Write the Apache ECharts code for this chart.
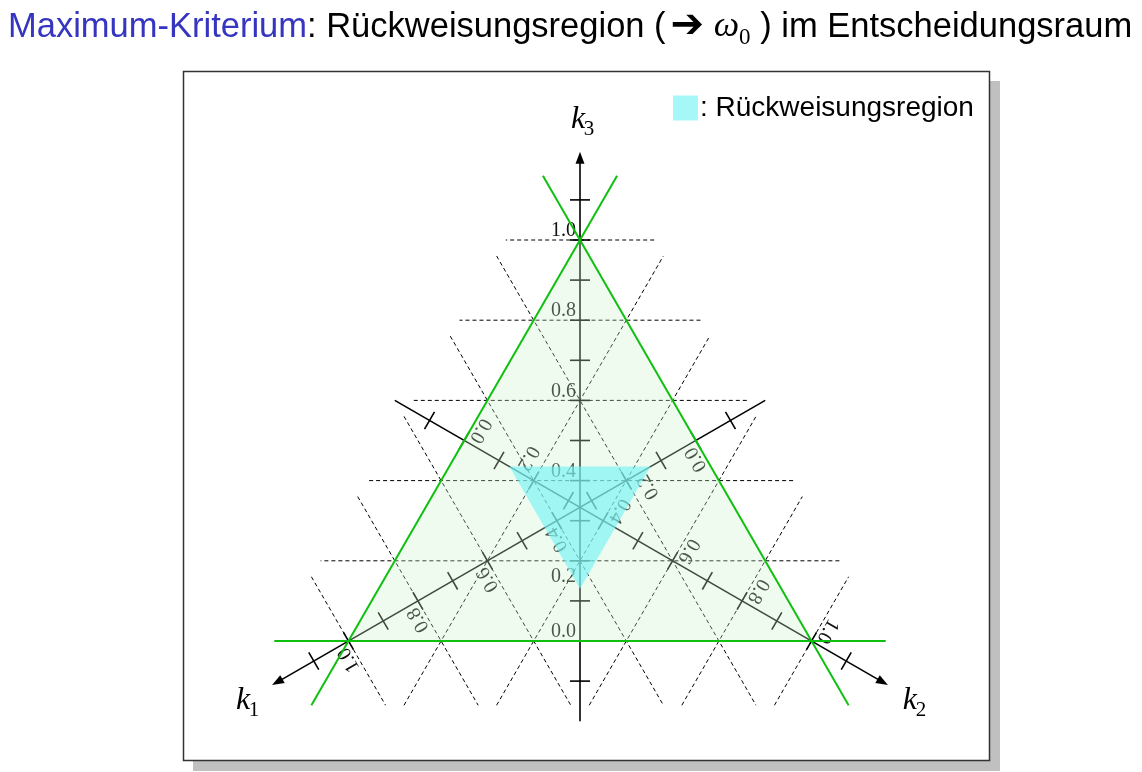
<!DOCTYPE html>
<html>
<head>
<meta charset="utf-8">
<script src="https://cdn.jsdelivr.net/npm/echarts@6.0.0/dist/echarts.min.js"></script>
<style>
html,body{margin:0;padding:0;background:#fff;}
#chart{width:1142px;height:772px;}
</style>
</head>
<body>
<div id="chart"></div>
<script>
// ---------------- data ----------------
const axisIndex = [0, 1, 2];               // k1, k2, k3
const axisLetters = ['k', 'k', 'k'];
const axisSubs = ['1', '2', '3'];
const axisRange = [-0.2, 1.22];            // each axis runs from -0.2 to the arrow tip
const tickValues = [-0.1, 0.0, 0.1, 0.2, 0.3, 0.4, 0.5, 0.6, 0.7, 0.8, 0.9, 1.0, 1.1];
const labelValues = [0.0, 0.2, 0.4, 0.6, 0.8, 1.0];
const tickLabels = ['0.0', '0.2', '0.4', '0.6', '0.8', '1.0'];
const gridValues = [0.2, 0.4, 0.6, 0.8, 1.0];   // dashed lines k_i = const
const edgeValues = [0.0];                        // green lines k_i = 0
const simplexValues = [1.0];                     // decision triangle (vertices k_i = 1)
const rejectThreshold = [0.435];                 // max(k_i) < threshold  -> rejection
const rejectName = 'Rückweisungsregion';

// ---------------- styles ----------------
const SQ3 = Math.sqrt(3);
const EXT = 0.185;                 // extension of lines beyond triangle (data units)
const ROT = [2 * Math.PI / 3, -2 * Math.PI / 3, 0];
const NAME_OFF = [[-29, 15], [22, 15], [-2, -32]];
const LABEL_DY = [0, 25, 0, 0, 0, 0];   // label shifted away from the centre for 0.2
const GREEN = '#10c010';
const FILL = 'rgba(206,242,206,0.31)';
const CYAN = 'rgba(117,243,244,0.65)';
const SERIF = '"Liberation Serif","Times New Roman",serif';
const SANS = '"Liberation Sans",Arial,sans-serif';

// ternary (k1,k2,k3) -> cartesian data coordinates
function tern(k) { return [(k[1] - k[0]) / SQ3, k[2]]; }
function axisPt(i, v) { const o = (1 - v) / 2; const k = [o, o, o]; k[i] = v; return tern(k); }
function perpDir(i) {
  const a = axisPt(i, 0), b = axisPt(i, 1);
  const dx = b[0] - a[0], dy = b[1] - a[1], L = Math.hypot(dx, dy);
  return [-dy / L, dx / L];
}
function constLine(i, v, ext) {
  const c = axisPt(i, v), p = perpDir(i), h = (1 - v) / SQ3 + ext;
  return [[c[0] - p[0] * h, c[1] - p[1] * h], [c[0] + p[0] * h, c[1] + p[1] * h]];
}
function seg(api, a, b, style) {
  const P = api.coord(a), Q = api.coord(b);
  return { type: 'line', shape: { x1: P[0], y1: P[1], x2: Q[0], y2: Q[1] }, style: style };
}

const chart = echarts.init(document.getElementById('chart'), null, { renderer: 'canvas' });

const option = {
  animation: false,
  backgroundColor: '#fff',
  title: {
    left: 3, top: 0, padding: 5,
    text: '{b|Maximum-Kriterium}{n|: Rückweisungsregion (}{sp| }{a|➔}{n| }{w|ω}{s|0}{n| ) im Entscheidungsraum}',
    textStyle: {
      fontWeight: 'normal',
      rich: {
        b: { fontFamily: SANS, fontSize: 34.5, fontWeight: 'normal', color: '#3535c0', lineHeight: 44 },
        n: { fontFamily: SANS, fontSize: 34.5, fontWeight: 'normal', color: '#000', lineHeight: 44 },
        sp: { fontFamily: SANS, fontSize: 18, fontWeight: 'normal', color: '#000', lineHeight: 44 },
        a: { fontFamily: '"DejaVu Sans"', fontSize: 40, fontWeight: 'bold', color: '#000', lineHeight: 44 },
        w: { fontFamily: SERIF, fontStyle: 'italic', fontWeight: 'normal', fontSize: 36, color: '#000', lineHeight: 44 },
        s: { fontFamily: SERIF, fontSize: 23, fontWeight: 'normal', color: '#000', lineHeight: 16, verticalAlign: 'bottom' }
      }
    }
  },
  legend: {
    data: [rejectName],
    left: 673, top: 94, padding: 0,
    itemWidth: 25, itemHeight: 25, icon: 'rect',
    formatter: ': {name}',
    textStyle: { fontFamily: SANS, fontSize: 28, color: '#000', padding: [0, 0, 0, -3] },
    selectedMode: false
  },
  graphic: [
    { type: 'rect', z: 0, shape: { x: 193, y: 81, width: 807, height: 690 }, style: { fill: '#c0c0c0' } },
    { type: 'rect', z: 0, shape: { x: 183.5, y: 71.5, width: 806, height: 689 }, style: { fill: '#fff', stroke: '#333', lineWidth: 1.5 } }
  ],
  grid: { left: 179, right: 161, top: 79.6, bottom: 10.7 },
  xAxis: { type: 'value', min: -1, max: 1, show: false },
  yAxis: { type: 'value', min: -0.3, max: 1.4, show: false },
  series: [
    { // dashed grid lines
      type: 'custom', z: 3, silent: true, clip: false,
      data: gridValues.map(v => [v, 0]),
      renderItem: function (params, api) {
        const v = api.value(0);
        return { type: 'group', children: axisIndex.map(i => {
          const l = constLine(i, v, EXT);
          return seg(api, l[0], l[1], { stroke: '#000', lineWidth: 1, lineDash: [4, 3] });
        }) };
      }
    },
    { // axes with arrows and names
      type: 'custom', z: 5, silent: true, clip: false,
      data: axisIndex.map(i => [i, 0]),
      renderItem: function (params, api) {
        const i = api.value(0);
        const B = api.coord(axisPt(i, axisRange[1]));
        return { type: 'group', children: [
          seg(api, axisPt(i, axisRange[0]), axisPt(i, axisRange[1] - 0.02), { stroke: '#000', lineWidth: 1.6 }),
          { type: 'polygon', x: B[0], y: B[1], rotation: ROT[i],
            shape: { points: [[0, 0], [-4.5, 12], [4.5, 12]] }, style: { fill: '#000' } },
          { type: 'text', x: B[0] + NAME_OFF[i][0], y: B[1] + NAME_OFF[i][1],
            style: { text: axisLetters[i], font: 'italic 32px ' + SERIF, fill: '#000', align: 'center', verticalAlign: 'middle' } },
          { type: 'text', x: B[0] + NAME_OFF[i][0] + 11, y: B[1] + NAME_OFF[i][1] + 10,
            style: { text: axisSubs[i], font: '21px ' + SERIF, fill: '#000', align: 'center', verticalAlign: 'middle' } }
        ] };
      }
    },
    { // ticks
      type: 'custom', z: 5, silent: true, clip: false,
      data: tickValues.map(v => [v, 0]),
      renderItem: function (params, api) {
        const v = api.value(0);
        return { type: 'group', children: axisIndex.map(i => {
          const P = api.coord(axisPt(i, v));
          return { type: 'line', x: P[0], y: P[1], rotation: ROT[i],
            shape: { x1: -10, y1: 0, x2: 10, y2: 0 }, style: { stroke: '#000', lineWidth: 1.6 } };
        }) };
      }
    },
    { // tick labels
      type: 'custom', z: 5, silent: true, clip: false,
      data: labelValues.map((v, j) => [v, j]),
      renderItem: function (params, api) {
        const v = api.value(0), j = api.value(1);
        return { type: 'group', children: axisIndex.map(i => {
          const P = api.coord(axisPt(i, v));
          return { type: 'group', x: P[0], y: P[1], rotation: ROT[i], children: [
            { type: 'text', x: -4, y: -9 + LABEL_DY[j],
              style: { text: tickLabels[j], font: '20px ' + SERIF, fill: '#111', align: 'right', verticalAlign: 'middle' } }
          ] };
        }) };
      }
    },
    { // decision triangle fill
      type: 'custom', z: 8, silent: true, clip: false,
      data: simplexValues.map(v => [v, 0]),
      renderItem: function (params, api) {
        const v = api.value(0);
        return { type: 'polygon', shape: { points: axisIndex.map(i => api.coord(axisPt(i, v))) }, style: { fill: FILL } };
      }
    },
    { // green edges
      type: 'custom', z: 9, silent: true, clip: false,
      data: edgeValues.map(v => [v, 0]),
      renderItem: function (params, api) {
        const v = api.value(0);
        return { type: 'group', children: axisIndex.map(i => {
          const l = constLine(i, v, EXT);
          return seg(api, l[0], l[1], { stroke: GREEN, lineWidth: 2 });
        }) };
      }
    },
    { // rejection region: all k_i below threshold
      name: rejectName,
      type: 'custom', z: 10, silent: true, clip: false,
      itemStyle: { color: CYAN },
      data: rejectThreshold.map(t => [t, 0]),
      renderItem: function (params, api) {
        const t = api.value(0);
        return { type: 'polygon', shape: { points: axisIndex.map(i => api.coord(axisPt(i, 1 - 2 * t))) }, style: { fill: CYAN } };
      }
    }
  ]
};
chart.setOption(option);
</script>
</body>
</html>
